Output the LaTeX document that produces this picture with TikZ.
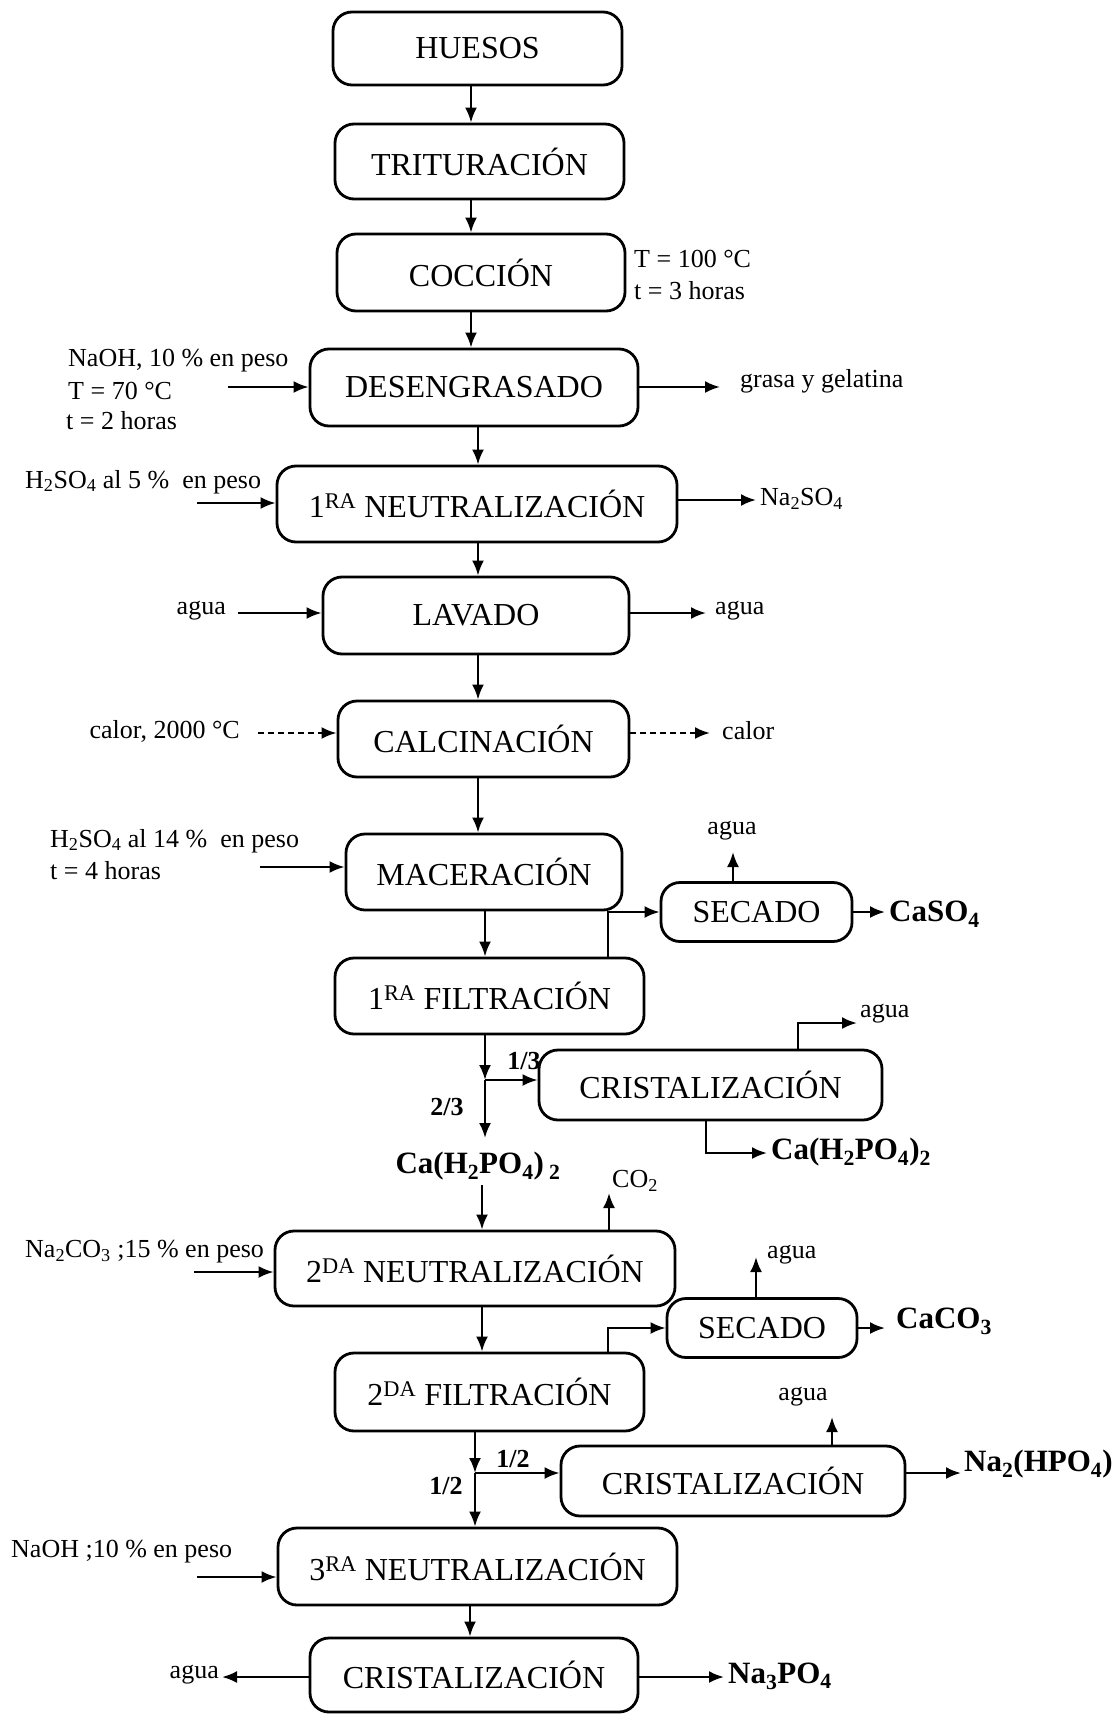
\documentclass[tikz,border=0pt]{standalone}
\usepackage{fontspec}
\setmainfont{Liberation Serif}
\usetikzlibrary{arrows.meta}
\begin{document}
\begin{tikzpicture}[x=1pt,y=-1pt,
  box/.style={draw, line width=2.8pt, rounded corners=19pt, inner sep=0pt, font=\fontsize{32}{36}\selectfont},
  lab/.style={inner sep=0pt, font=\fontsize{26}{30}\selectfont},
  blab/.style={inner sep=0pt, font=\fontsize{31}{36}\selectfont\bfseries},
  fraclab/.style={inner sep=0pt, font=\fontsize{26}{30}\selectfont\bfseries},
  arr/.style={line width=2.4pt, -{Latex[length=15pt,width=12pt]}},
  darr/.style={arr, dash pattern=on 6pt off 4pt}]
\useasboundingbox (0,0) rectangle (1118,1715);

% boxes
\node[box, minimum width=289pt, minimum height=73pt] (huesos) at (477.5,48.5) {HUESOS};
\node[box, minimum width=289pt, minimum height=75pt] (trit) at (479.5,161.5) {TRITURACIÓN};
\node[box, minimum width=288pt, minimum height=77pt] (cocc) at (481,272.5) {COCCIÓN};
\node[box, minimum width=328pt, minimum height=77pt] (deseng) at (474,387.5) {DESENGRASADO};
\node[box, minimum width=400pt, minimum height=76pt] (neut1) at (477,504) {1\textsuperscript{RA} NEUTRALIZACIÓN};
\node[box, minimum width=306pt, minimum height=77pt] (lav) at (476,615.5) {LAVADO};
\node[box, minimum width=291pt, minimum height=76pt] (calc) at (483.5,739) {CALCINACIÓN};
\node[box, minimum width=276pt, minimum height=76pt] (macer) at (484,872) {MACERACIÓN};
\node[box, minimum width=309pt, minimum height=76pt] (filt1) at (489.5,996) {1\textsuperscript{RA} FILTRACIÓN};
\node[box, minimum width=191pt, minimum height=59pt] (sec1) at (756.5,912) {SECADO};
\node[box, minimum width=343pt, minimum height=70pt] (crist1) at (710.5,1085) {CRISTALIZACIÓN};
\node[box, minimum width=400pt, minimum height=75pt] (neut2) at (475,1268.5) {2\textsuperscript{DA} NEUTRALIZACIÓN};
\node[box, minimum width=190pt, minimum height=59pt] (sec2) at (762,1328) {SECADO};
\node[box, minimum width=309pt, minimum height=78pt] (filt2) at (489.5,1392) {2\textsuperscript{DA} FILTRACIÓN};
\node[box, minimum width=344pt, minimum height=70pt] (crist2) at (733,1481) {CRISTALIZACIÓN};
\node[box, minimum width=399pt, minimum height=77pt] (neut3) at (477.5,1566.5) {3\textsuperscript{RA} NEUTRALIZACIÓN};
\node[box, minimum width=328pt, minimum height=74pt] (crist3) at (474,1675) {CRISTALIZACIÓN};

% x positions of the main vertical flow
\coordinate (xa) at (471,0);
\coordinate (xb) at (478,0);
\coordinate (xc) at (485,0);
\coordinate (xd) at (482,0);
\coordinate (xe) at (475,0);
\coordinate (xf) at (470,0);
\coordinate (xg) at (608,0);

% main flow
\draw[arr] (huesos.south -| xa) -- (trit.north -| xa);
\draw[arr] (trit.south -| xa) -- (cocc.north -| xa);
\draw[arr] (cocc.south -| xa) -- (deseng.north -| xa);
\draw[arr] (deseng.south -| xb) -- (neut1.north -| xb);
\draw[arr] (neut1.south -| xb) -- (lav.north -| xb);
\draw[arr] (lav.south -| xb) -- (calc.north -| xb);
\draw[arr] (calc.south -| xb) -- (macer.north -| xb);
\draw[arr] (macer.south -| xc) -- (filt1.north -| xc);

% coccion conditions
\node[lab, anchor=west] (tc) at (634,259) {T = 100 °C};
\node[lab, anchor=west] (th) at (634,291) {t = 3 horas};

% desengrasado
\node[lab, anchor=west] (naoh1) at (68,361) {NaOH, 10 \% en peso};
\node[lab, anchor=west] (t70) at (68,391) {T = 70 °C};
\node[lab, anchor=west] (t2h) at (66,421) {t = 2 horas};
\coordinate (i1) at (228,387);
\draw[arr] (i1) -- (i1 -| deseng.west);
\coordinate (o1) at (720,387);
\draw[arr] (o1 -| deseng.east) -- (o1);
\node[lab, anchor=west] (grasa) at (740,381) {grasa y gelatina};

% neutralizacion 1
\node[lab, anchor=west] (h2so4a) at (25,482) {H\textsubscript{2}SO\textsubscript{4} al 5 \% \ en peso};
\coordinate (i2) at (197,503);
\draw[arr] (i2) -- (i2 -| neut1.west);
\coordinate (o2) at (756,500);
\draw[arr] (o2 -| neut1.east) -- (o2);
\node[lab, anchor=west] (na2so4) at (760,499) {Na\textsubscript{2}SO\textsubscript{4}};

% lavado
\node[lab, anchor=east] (aguaL) at (226,611) {agua};
\coordinate (i3) at (238,613);
\draw[arr] (i3) -- (i3 -| lav.west);
\coordinate (o3) at (706,613);
\draw[arr] (o3 -| lav.east) -- (o3);
\node[lab, anchor=west] (aguaR) at (715,611) {agua};

% calcinacion
\node[lab, anchor=east] (calorL) at (240,731) {calor, 2000 °C};
\coordinate (i4) at (258,733);
\draw[darr] (i4) -- (i4 -| calc.west);
\coordinate (o4) at (710,733);
\draw[darr] (o4 -| calc.east) -- (o4);
\node[lab, anchor=west] (calorR) at (722,731) {calor};

% maceracion
\node[lab, anchor=west] (h2so4b) at (50,841) {H\textsubscript{2}SO\textsubscript{4} al 14 \% \ en peso};
\node[lab, anchor=west] (t4h) at (50,871) {t = 4 horas};
\coordinate (i5) at (260,867);
\draw[arr] (i5) -- (i5 -| macer.west);

% filtracion 1 -> secado 1
\draw[arr] (filt1.north -| xg) |- (sec1.west);
\coordinate (u1) at (733,852);
\draw[arr] (u1 |- sec1.north) -- (u1);
\node[lab] (agua1) at (732,831) {agua};
\coordinate (o5) at (885,912);
\draw[arr] (sec1.east) -- (o5);
\node[blab, anchor=west] (caso4) at (889,914) {CaSO\textsubscript{4}};

% filtracion 1 split
\coordinate (j1) at (485,1080);
\coordinate (e1) at (485,1138);
\draw[arr] (filt1.south -| xc) -- (j1);
\draw[arr] (j1) -- (e1);
\draw[arr] (j1) -- (j1 -| crist1.west);
\node[fraclab] (f13) at (524,1061) {1/3};
\node[fraclab] (f23) at (447,1107) {2/3};
\coordinate (c1a) at (798,1023);
\coordinate (c1b) at (857,1023);
\draw[arr] (crist1.north -| c1a) -- (c1a) -- (c1b);
\node[lab, anchor=west] (agua2) at (860,1014) {agua};
\coordinate (c1c) at (706,1153);
\coordinate (c1d) at (767,1153);
\draw[arr] (crist1.south -| c1c) -- (c1c) -- (c1d);
\node[blab, anchor=west] (caR) at (771,1152) {Ca(H\textsubscript{2}PO\textsubscript{4})\textsubscript{2}};
\node[blab] (caL) at (478,1166) {Ca(H\textsubscript{2}PO\textsubscript{4})\,\textsubscript{2}};

% neutralizacion 2
\draw[arr, shorten <=5pt] (caL.south -| xd) -- (neut2.north -| xd);
\coordinate (co) at (609,1193);
\draw[arr] (neut2.north -| co) -- (co);
\node[lab, anchor=west] (co2) at (612,1181) {CO\textsubscript{2}};
\node[lab, anchor=west] (na2co3) at (25,1252) {Na\textsubscript{2}CO\textsubscript{3} ;15 \% en peso};
\coordinate (i6) at (194,1272);
\draw[arr] (i6) -- (i6 -| neut2.west);
\draw[arr] (neut2.south -| xd) -- (filt2.north -| xd);

% filtracion 2 -> secado 2
\draw[arr] (filt2.north -| xg) |- (sec2.west);
\coordinate (u2) at (756,1257);
\draw[arr] (u2 |- sec2.north) -- (u2);
\node[lab, anchor=west] (agua3) at (767,1255) {agua};
\coordinate (o7) at (885,1328);
\draw[arr] (sec2.east) -- (o7);
\node[blab, anchor=west] (caco3) at (896,1321) {CaCO\textsubscript{3}};

% filtracion 2 split
\coordinate (j2) at (475,1473);
\draw[arr] (filt2.south -| xe) -- (j2);
\draw[arr] (j2) -- (neut3.north -| xe);
\draw[arr] (j2) -- (j2 -| crist2.west);
\node[fraclab] (f12a) at (513,1459) {1/2};
\node[fraclab] (f12b) at (446,1486) {1/2};
\coordinate (u3) at (832,1417);
\draw[arr] (u3 |- crist2.north) -- (u3);
\node[lab] (agua4) at (803,1397) {agua};
\coordinate (o8) at (961,1473);
\draw[arr] (o8 -| crist2.east) -- (o8);
\node[blab, anchor=west] (na2hpo4) at (964,1464) {Na\textsubscript{2}(HPO\textsubscript{4})};

% neutralizacion 3
\node[lab, anchor=west] (naoh2) at (11,1552) {NaOH ;10 \% en peso};
\coordinate (i8) at (197,1577);
\draw[arr] (i8) -- (i8 -| neut3.west);
\draw[arr] (neut3.south -| xf) -- (crist3.north -| xf);

% cristalizacion 3
\coordinate (o9) at (222,1677);
\draw[arr] (o9 -| crist3.west) -- (o9);
\node[lab, anchor=east] (agua5) at (219,1675) {agua};
\coordinate (o10) at (724,1677);
\draw[arr] (o10 -| crist3.east) -- (o10);
\node[blab, anchor=west] (na3po4) at (728,1676) {Na\textsubscript{3}PO\textsubscript{4}};
\end{tikzpicture}
\end{document}
